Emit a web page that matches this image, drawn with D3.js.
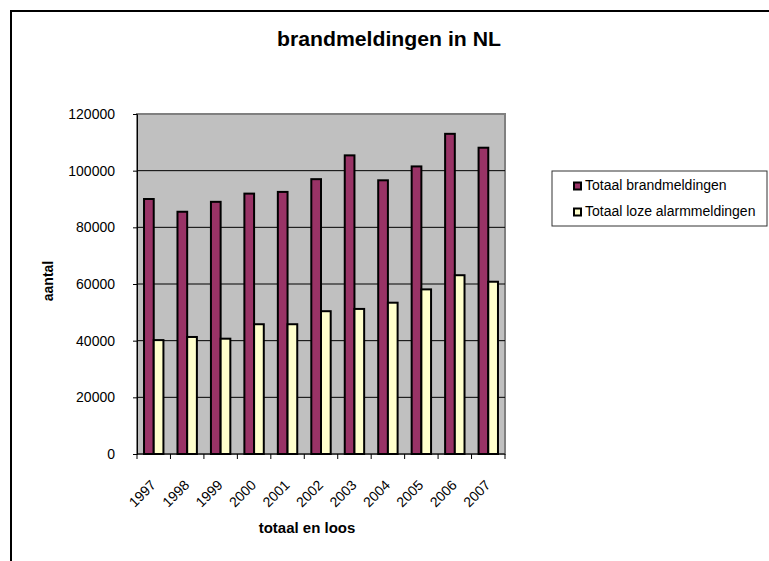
<!DOCTYPE html>
<html>
<head>
<meta charset="utf-8">
<script src="https://d3js.org/d3.v7.min.js"></script>
<style>
  body { margin: 0; background: #fff; }
  svg text { font-family: "Liberation Sans", Arial, sans-serif; }
</style>
</head>
<body>
<svg id="chart" width="769" height="561"></svg>
<script>
// data
const years = ["1997","1998","1999","2000","2001","2002","2003","2004","2005","2006","2007"];
const totaalBrand = [90000, 85500, 89000, 91900, 92500, 97000, 105400, 96600, 101500, 113000, 108100];
const totaalLoos = [40200, 41300, 40700, 45800, 45800, 50400, 51200, 53400, 58100, 63100, 60800];
const seriesNames = ["Totaal brandmeldingen", "Totaal loze alarmmeldingen"];
const seriesColors = ["#993366", "#ffffcc"];
const yTicks = [0, 20000, 40000, 60000, 80000, 100000, 120000];

const svg = d3.select("svg#chart");
const plotL = 137, plotR = 505, plotT = 114, plotB = 454;

// outer frame
svg.append("rect")
   .attr("x", 11).attr("y", 11).attr("width", 800).attr("height", 600)
   .attr("fill", "none").attr("stroke", "#000").attr("stroke-width", 2);

svg.append("text")
   .attr("x", 389).attr("y", 46)
   .attr("text-anchor", "middle")
   .attr("font-size", 20).attr("font-weight", "bold")
   .attr("textLength", 224).attr("lengthAdjust", "spacingAndGlyphs")
   .text("brandmeldingen in NL");

const x0 = d3.scaleBand().domain(years).range([plotL, plotR]).padding(0);
const x1 = d3.scaleBand().domain([0, 1])
             .range([x0.bandwidth() * 0.21, x0.bandwidth() * 0.79]);
const y = d3.scaleLinear().domain([0, 120000]).range([plotB, plotT]);

// plot area
svg.append("rect")
   .attr("x", plotL).attr("y", plotT).attr("width", plotR - plotL).attr("height", plotB - plotT)
   .attr("fill", "#c0c0c0").attr("stroke", "#808080").attr("stroke-width", 2);

svg.append("g").selectAll("line.grid").data(yTicks.filter(d => d > 0 && d < 120000))
   .join("line")
   .attr("class", "grid")
   .attr("x1", plotL).attr("x2", plotR)
   .attr("y1", d => y(d)).attr("y2", d => y(d))
   .attr("stroke", "#000").attr("stroke-width", 1);

// bars
const groups = svg.append("g").selectAll("g.year").data(years)
   .join("g")
   .attr("class", "year")
   .attr("transform", d => `translate(${x0(d)},0)`);

groups.selectAll("rect.bar")
   .data((d, i) => [totaalBrand[i], totaalLoos[i]])
   .join("rect")
   .attr("class", "bar")
   .attr("x", (d, j) => x1(j))
   .attr("width", x1.bandwidth())
   .attr("y", d => y(d))
   .attr("height", d => y(0) - y(d))
   .attr("fill", (d, j) => seriesColors[j])
   .attr("stroke", "#000").attr("stroke-width", 2);

// y axis
const yAxis = svg.append("g")
   .attr("transform", `translate(${plotL},0)`)
   .call(d3.axisLeft(y).tickValues(yTicks).tickSize(4).tickPadding(18).tickFormat(d => d));
yAxis.select(".domain").attr("stroke", "#000");
yAxis.selectAll("text").attr("font-size", 14).attr("fill", "#000");

// x axis
svg.append("line")
   .attr("x1", plotL).attr("x2", plotR).attr("y1", plotB).attr("y2", plotB)
   .attr("stroke", "#000").attr("stroke-width", 1);
svg.append("g").selectAll("line.xtick").data(years.concat(["end"]))
   .join("line")
   .attr("class", "xtick")
   .attr("x1", (d, i) => i < years.length ? x0(d) : plotR)
   .attr("x2", (d, i) => i < years.length ? x0(d) : plotR)
   .attr("y1", plotB).attr("y2", plotB + 5)
   .attr("stroke", "#000");

svg.append("g").selectAll("text.year").data(years)
   .join("text")
   .attr("class", "year")
   .attr("transform", d => `translate(${x0(d) + x0.bandwidth() / 2 + 3},${plotB + 32}) rotate(-45)`)
   .attr("text-anchor", "end")
   .attr("font-size", 14)
   .text(d => d);

// axis titles
svg.append("text")
   .attr("x", 307).attr("y", 533)
   .attr("text-anchor", "middle")
   .attr("font-size", 15).attr("font-weight", "bold")
   .text("totaal en loos");

svg.append("text")
   .attr("transform", `translate(53,281) rotate(-90)`)
   .attr("text-anchor", "middle")
   .attr("font-size", 14).attr("font-weight", "bold")
   .text("aantal");

// legend
const legend = svg.append("g").attr("transform", "translate(552,171)");
legend.append("rect")
   .attr("width", 215).attr("height", 55)
   .attr("fill", "#fff").attr("stroke", "#333").attr("stroke-width", 1);
const items = legend.selectAll("g.item").data(seriesNames)
   .join("g")
   .attr("class", "item")
   .attr("transform", (d, i) => `translate(22,${11.5 + i * 26})`);
items.append("rect")
   .attr("x", 0).attr("y", 0).attr("width", 7).attr("height", 7)
   .attr("fill", (d, i) => seriesColors[i])
   .attr("stroke", "#000").attr("stroke-width", 2);
items.append("text")
   .attr("x", 11).attr("y", 7)
   .attr("font-size", 14)
   .text(d => d);
</script>
</body>
</html>
